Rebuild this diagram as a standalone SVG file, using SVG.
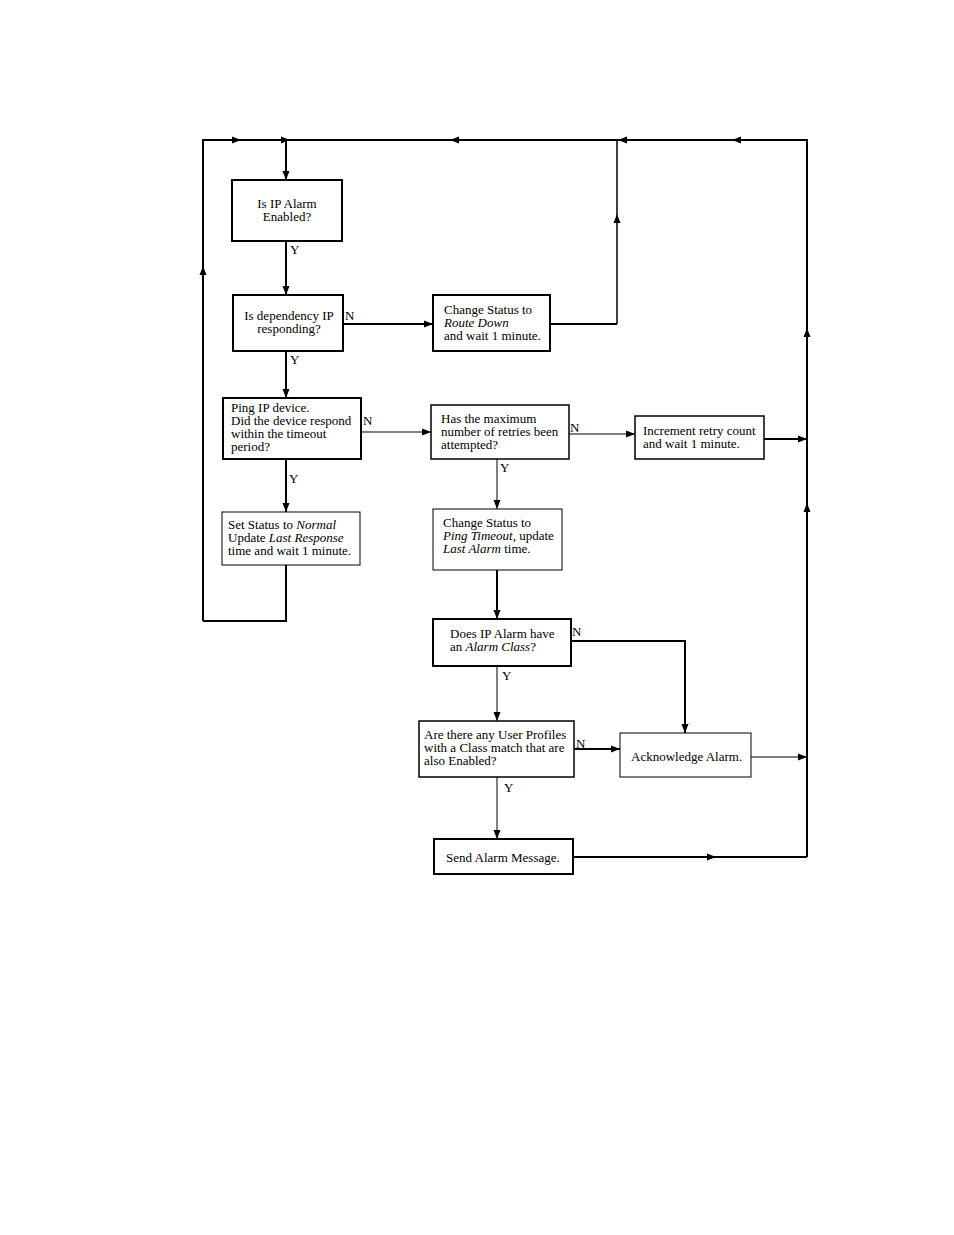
<svg xmlns="http://www.w3.org/2000/svg" width="954" height="1235" viewBox="0 0 954 1235">
<style>
text{font-family:"Liberation Serif","Times New Roman",serif;font-size:13px;fill:#000}
.c{text-anchor:middle}
.i{font-style:italic}
.bx{fill:#fff;stroke:#000}
.t2{stroke-width:2}
.t15{stroke-width:1.5}
.t1{stroke-width:1}
.ln{fill:none;stroke:#000}
</style>
<defs>
<path id="ah" d="M0,0 L-9,-3.5 L-9,3.5 Z" fill="#000"/>
</defs>
<rect width="954" height="1235" fill="#fff"/>
<g id="connectors">
<path class="ln" stroke-width="2" d="M203,621 V140 H807 V857"/>
<path class="ln" stroke-width="2" d="M286,140 V180"/>
<path class="ln" stroke-width="2" d="M286,241 V295"/>
<path class="ln" stroke-width="2" d="M343,324 H433"/>
<path class="ln" stroke-width="2" d="M550,324 H617"/>
<path class="ln" stroke-width="1.5" d="M617,324 V140"/>
<path class="ln" stroke-width="2" d="M286,351 V398"/>
<path class="ln" stroke-width="1" d="M361,432 H431"/>
<path class="ln" stroke-width="1" d="M569,434 H635"/>
<path class="ln" stroke-width="2" d="M764,439 H807"/>
<path class="ln" stroke-width="2" d="M286,459 V512"/>
<path class="ln" stroke-width="2" d="M286,565 V621 H203"/>
<path class="ln" stroke-width="1" d="M497,459 V509"/>
<path class="ln" stroke-width="2" d="M497,570 V619"/>
<path class="ln" stroke-width="2" d="M571,641 H685 V733"/>
<path class="ln" stroke-width="1" d="M497,666 V721"/>
<path class="ln" stroke-width="2" d="M574,749 H620"/>
<path class="ln" stroke-width="1" d="M497,777 V839"/>
<path class="ln" stroke-width="1" d="M751,757 H807"/>
<path class="ln" stroke-width="2" d="M573,857 H807"/>
<use href="#ah" transform="translate(241,140)"/>
<use href="#ah" transform="translate(290,140)"/>
<use href="#ah" transform="translate(450,140) rotate(180)"/>
<use href="#ah" transform="translate(618,140) rotate(180)"/>
<use href="#ah" transform="translate(732,140) rotate(180)"/>
<use href="#ah" transform="translate(203,266) rotate(-90)"/>
<use href="#ah" transform="translate(286,180) rotate(90)"/>
<use href="#ah" transform="translate(286,295) rotate(90)"/>
<use href="#ah" transform="translate(433,324)"/>
<use href="#ah" transform="translate(617,214) rotate(-90)"/>
<use href="#ah" transform="translate(286,398) rotate(90)"/>
<use href="#ah" transform="translate(431,432)"/>
<use href="#ah" transform="translate(635,434)"/>
<use href="#ah" transform="translate(807,439)"/>
<use href="#ah" transform="translate(807,328) rotate(-90)"/>
<use href="#ah" transform="translate(807,503) rotate(-90)"/>
<use href="#ah" transform="translate(286,512) rotate(90)"/>
<use href="#ah" transform="translate(497,509) rotate(90)"/>
<use href="#ah" transform="translate(497,619) rotate(90)"/>
<use href="#ah" transform="translate(685,733) rotate(90)"/>
<use href="#ah" transform="translate(497,721) rotate(90)"/>
<use href="#ah" transform="translate(620,749)"/>
<use href="#ah" transform="translate(497,839) rotate(90)"/>
<use href="#ah" transform="translate(807,757)"/>
<use href="#ah" transform="translate(716,857)"/>
<text x="290" y="254">Y</text>
<text x="345" y="320">N</text>
<text x="290" y="364">Y</text>
<text x="363" y="425">N</text>
<text x="570" y="432">N</text>
<text x="289" y="483">Y</text>
<text x="500" y="472">Y</text>
<text x="572" y="636">N</text>
<text x="502" y="680">Y</text>
<text x="576" y="748">N</text>
<text x="504" y="792">Y</text>
</g>
<g id="n1"><rect class="bx t2" x="232" y="180" width="110" height="61"/>
<text class="c" x="287" y="208">Is IP Alarm</text><text class="c" x="287" y="221">Enabled?</text></g>
<g id="n2"><rect class="bx t2" x="233" y="295" width="110" height="56"/>
<text class="c" x="289" y="320">Is dependency IP</text><text class="c" x="289" y="333">responding?</text></g>
<g id="n3"><rect class="bx t2" x="433" y="295" width="117" height="56"/>
<text x="444" y="314">Change Status to</text><text class="i" x="444" y="327">Route Down</text><text x="444" y="340">and wait 1 minute.</text></g>
<g id="n4"><rect class="bx t2" x="223" y="398" width="138" height="61"/>
<text x="231" y="412">Ping IP device.</text><text x="231" y="425">Did the device respond</text><text x="231" y="438">within the timeout</text><text x="231" y="451">period?</text></g>
<g id="n5"><rect class="bx t15" x="431" y="405" width="138" height="54"/>
<text x="441" y="423">Has the maximum</text><text x="441" y="436">number of retries been</text><text x="441" y="449">attempted?</text></g>
<g id="n6"><rect class="bx t15" x="635" y="416" width="129" height="43"/>
<text x="643" y="435">Increment retry count</text><text x="643" y="448">and wait 1 minute.</text></g>
<g id="n7"><rect class="bx t1" x="222" y="512" width="138" height="53"/>
<text x="228" y="529">Set Status to <tspan class="i">Normal</tspan></text><text x="228" y="542">Update <tspan class="i">Last Response</tspan></text><text x="228" y="555">time and wait 1 minute.</text></g>
<g id="n8"><rect class="bx t1" x="433" y="509" width="129" height="61"/>
<text x="443" y="527">Change Status to</text><text x="443" y="540"><tspan class="i">Ping Timeout</tspan>, update</text><text x="443" y="553"><tspan class="i">Last Alarm</tspan> time.</text></g>
<g id="n9"><rect class="bx t2" x="433" y="619" width="138" height="47"/>
<text x="450" y="638">Does IP Alarm have</text><text x="450" y="651">an <tspan class="i">Alarm Class</tspan>?</text></g>
<g id="n10"><rect class="bx t15" x="419" y="721" width="155" height="56"/>
<text x="424" y="739">Are there any User Profiles</text><text x="424" y="752">with a Class match that are</text><text x="424" y="765">also Enabled?</text></g>
<g id="n11"><rect class="bx t1" x="620" y="733" width="131" height="44"/>
<text x="631" y="761">Acknowledge Alarm.</text></g>
<g id="n12"><rect class="bx t2" x="434" y="839" width="139" height="35"/>
<text x="446" y="862">Send Alarm Message.</text></g>
</svg>
